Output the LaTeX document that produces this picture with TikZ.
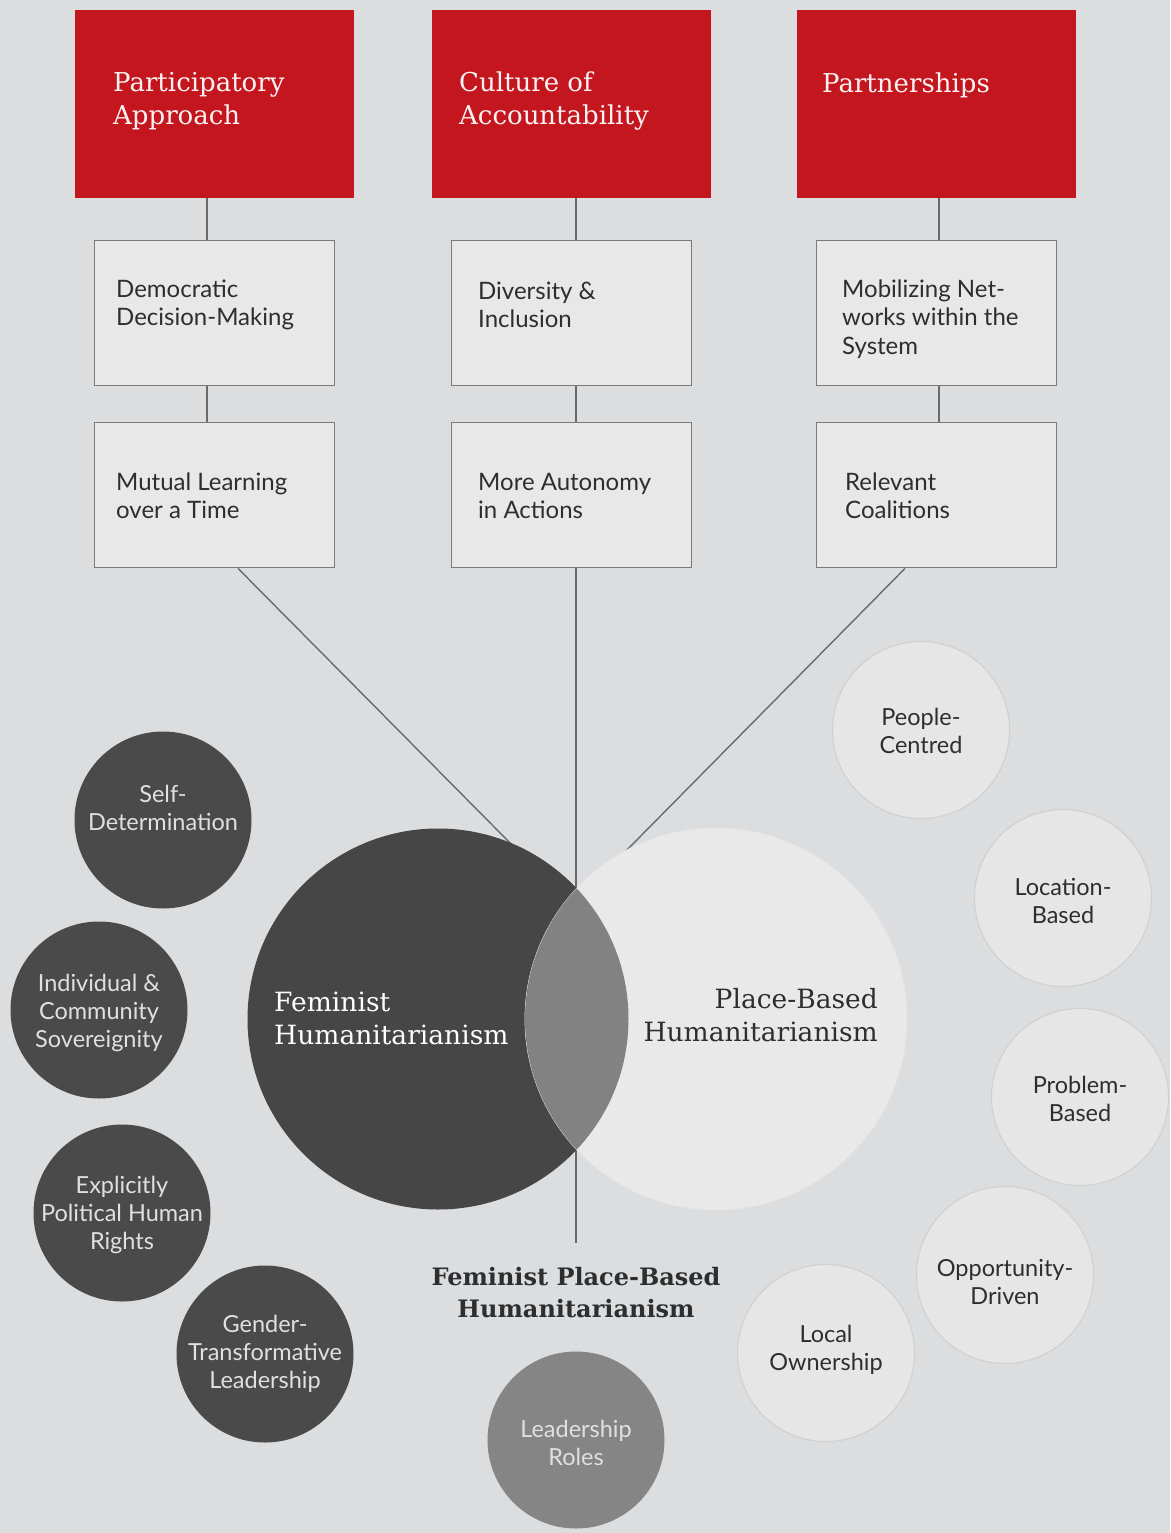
\documentclass[tikz,border=0pt]{standalone}
\usepackage{fontspec}
\setmainfont{DejaVu Serif}
\newfontfamily\sansf{Lato}
\usetikzlibrary{calc}
\definecolor{bgc}{HTML}{DCDDDF}
\definecolor{redc}{HTML}{C3161E}
\definecolor{boxc}{HTML}{E8E8E8}
\definecolor{boxline}{HTML}{7A7A7A}
\definecolor{linec}{HTML}{6A6A6A}
\definecolor{darkc}{HTML}{4A4A4A}
\definecolor{venndark}{HTML}{464646}
\definecolor{vennlight}{HTML}{E9E9E9}
\definecolor{lensc}{HTML}{828282}
\definecolor{midc}{HTML}{858585}
\definecolor{lightc}{HTML}{E6E6E6}
\definecolor{lightline}{HTML}{CFCFCF}
\definecolor{txtdark}{HTML}{2E2E2E}
\tikzset{
  redbox/.style={rectangle, fill=redc, draw=none, minimum width=279pt, minimum height=188pt, anchor=north west, inner sep=0pt},
  itembox/.style={rectangle, fill=boxc, draw=boxline, line width=1.4pt, minimum width=240pt, minimum height=145pt, anchor=north west, inner sep=0pt},
  redtxt/.style={anchor=west, inner sep=0pt, align=left, text=white!95!red, font=\fontsize{26}{33}\selectfont},
  itemtxt/.style={anchor=west, inner sep=0pt, align=left, text=txtdark, font=\sansf\fontsize{24}{28.5}\selectfont},
  conn/.style={draw=linec, line width=1.4pt},
  darkdot/.style={circle, fill=darkc, minimum size=177pt, inner sep=0pt},
  lightdot/.style={circle, fill=lightc, draw=lightline, line width=1pt, minimum size=177pt, inner sep=0pt},
  middot/.style={circle, fill=midc, minimum size=177pt, inner sep=0pt},
  dottxtw/.style={inner sep=0pt, align=center, text=white!88!black, font=\sansf\fontsize{23.5}{28}\selectfont},
  dottxtd/.style={inner sep=0pt, align=center, text=txtdark, font=\sansf\fontsize{23.5}{28}\selectfont},
  venntxt/.style={inner sep=0pt, font=\fontsize{26.5}{33}\selectfont},
}
\begin{document}
\begin{tikzpicture}[x=1pt,y=-1pt]
\fill[bgc] (0,0) rectangle (1170,1533);
\useasboundingbox (0,0) rectangle (1170,1533);

% red header boxes
\node[redbox] (r1) at (75,10) {};
\node[redbox] (r2) at (432,10) {};
\node[redbox] (r3) at (797,10) {};
\node[redtxt] (r1t) at (113,101.5) {Participatory\\Approach};
\node[redtxt] (r2t) at (459,101.5) {Culture of\\Accountability};
\node[redtxt] (r3t) at (822,85) {Partnerships};

% item boxes
\node[itembox] (a1) at (94,240) {};
\node[itembox] (a2) at (94,422) {};
\node[itembox] (b1) at (451,240) {};
\node[itembox] (b2) at (451,422) {};
\node[itembox] (c1) at (816,240) {};
\node[itembox] (c2) at (816,422) {};

% vertical connectors
\draw[conn] (r1.south -| 207,0) -- (a1.north -| 207,0);
\draw[conn] (a1.south -| 207,0) -- (a2.north -| 207,0);
\draw[conn] (r2.south -| 576,0) -- (b1.north -| 576,0);
\draw[conn] (b1.south -| 576,0) -- (b2.north -| 576,0);
\draw[conn] (r3.south -| 939,0) -- (c1.north -| 939,0);
\draw[conn] (c1.south -| 939,0) -- (c2.north -| 939,0);

\node[itemtxt] (a1t) at (116,305) {Democratic\\Decision-Making};
\node[itemtxt] (a2t) at (116,496) {Mutual Learning\\over a Time};
\node[itemtxt] (b1t) at (478,305) {Diversity \&\\Inclusion};
\node[itemtxt] (b2t) at (478,496) {More Autonomy\\in Actions};
\node[itemtxt] (c1t) at (842,319) {Mobilizing Net-\\works within the\\System};
\node[itemtxt] (c2t) at (845,496) {Relevant\\Coalitions};

% connectors to the Venn diagram
\coordinate (j1) at (520,853);
\coordinate (j2) at (576,1243);
\coordinate (j3) at (620,857);
\draw[conn] (a2.south -| 238,0) -- (j1);
\draw[conn] (b2.south -| 576,0) -- (j2);
\draw[conn] (c2.south -| 905,0) -- (j3);

% Venn diagram
\node[circle, fill=venndark, minimum size=381pt, inner sep=0pt] (fh) at (438,1019) {};
\node[circle, fill=vennlight, draw=white!80!gray, line width=0.8pt, minimum size=382pt, inner sep=0pt] (pb) at (716,1019) {};
\begin{scope}
  \clip (438,1019) circle (190.5);
  \fill[lensc] (716,1019) circle (191);
\end{scope}
\draw[conn] (576,1185) -- (j2);
\node[venntxt, anchor=west, align=left, text=white] (fht) at (274,1018.5) {Feminist\\Humanitarianism};
\node[venntxt, anchor=east, align=right, text=txtdark] (pbt) at (878,1015.5) {Place-Based\\Humanitarianism};
\node[venntxt, anchor=center, align=center, text=txtdark, font=\bfseries\fontsize{24}{32}\selectfont] (fpb) at (576,1293) {Feminist Place-Based\\Humanitarianism};

% dark circles
\node[darkdot] (d1) at (163,820) {};
\node[dottxtw] at (163,808) {Self-\\Determination};
\node[darkdot] (d2) at (99,1010) {};
\node[dottxtw] at (99,1013) {Individual \&\\Community\\Sovereignity};
\node[darkdot] (d3) at (122,1213) {};
\node[dottxtw] at (122,1215) {Explicitly\\Political Human\\Rights};
\node[darkdot] (d4) at (265,1354) {};
\node[dottxtw] at (265,1354) {Gender-\\Transformative\\Leadership};

% light circles
\node[lightdot] (l1) at (921,730) {};
\node[dottxtd] at (921,731) {People-\\Centred};
\node[lightdot] (l2) at (1063,898) {};
\node[dottxtd] at (1063,901) {Location-\\Based};
\node[lightdot] (l3) at (1080,1097) {};
\node[dottxtd] at (1080,1099) {Problem-\\Based};
\node[lightdot] (l4) at (1005,1275) {};
\node[dottxtd] at (1005,1282) {Opportunity-\\Driven};
\node[lightdot] (l5) at (826,1353) {};
\node[dottxtd] at (826,1350) {Local\\Ownership};

% leadership roles
\node[middot] (m1) at (576,1440) {};
\node[dottxtw] at (576,1443) {Leadership\\Roles};
\end{tikzpicture}
\end{document}
